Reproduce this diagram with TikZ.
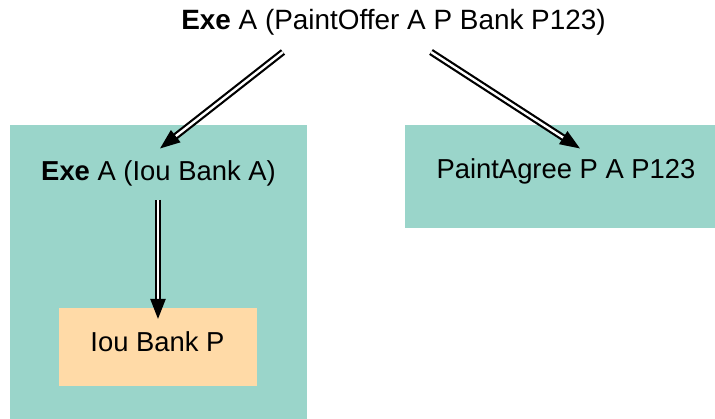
\documentclass[tikz,border=0pt]{standalone}
\usepackage{fontspec}
\setmainfont{Liberation Sans}
\usetikzlibrary{arrows.meta}
\definecolor{tealbg}{RGB}{154,213,202}
\definecolor{orangebg}{RGB}{255,218,167}
\tikzset{
  box/.style={draw=none, inner sep=0pt, anchor=north west},
  lbl/.style={inner sep=0pt, anchor=base, font=\fontsize{27.4}{32}\selectfont},
  dbl/.style={draw=black, double=white, line width=2.2pt, double distance=2.4pt,
    -{Triangle[length=20pt,width=15pt]}}
}
\begin{document}
\begin{tikzpicture}[x=1pt,y=-1pt]
\useasboundingbox (0,0) rectangle (715,419);
% boxes
\node[box, fill=tealbg, minimum width=297pt, minimum height=294pt] (lbox) at (9.5,125) {};
\node[box, fill=tealbg, minimum width=310pt, minimum height=103pt] (rbox) at (405,125) {};
\node[box, fill=orangebg, minimum width=198pt, minimum height=78pt] (obox) at (59,308) {};
% labels
\node[lbl, font=\fontsize{27.9}{32}\selectfont] (top) at (393.5,30) {\textbf{Exe} A (PaintOffer A P Bank P123)};
\node[lbl] (ltext) at (158.5,180.5) {\textbf{Exe} A (Iou Bank A)};
\node[lbl] (rtext) at (566,179) {PaintAgree P A P123};
\node[lbl] (otext) at (157.5,351.5) {Iou Bank P};
% connector ends
\coordinate (a1s) at (283,52);
\coordinate (a1e) at (160,148.5);
\coordinate (a2s) at (431,52);
\coordinate (a2e) at (580,148.5);
\coordinate (a3s) at (158,200);
\coordinate (a3e) at (158,319);
\draw[dbl] (a1s) -- (a1e);
\draw[dbl] (a2s) -- (a2e);
\draw[dbl] (a3s) -- (a3e);
\end{tikzpicture}
\end{document}
